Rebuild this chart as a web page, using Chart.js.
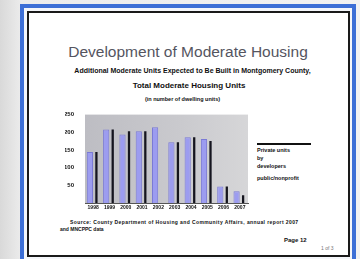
<!DOCTYPE html>
<html>
<head>
<meta charset="utf-8">
<script src="https://cdn.jsdelivr.net/npm/chart.js@4/dist/chart.umd.min.js"></script>
<style>
  html, body { margin: 0; padding: 0; }
  body {
    width: 360px; height: 259px; overflow: hidden; position: relative;
    background: linear-gradient(90deg, #d9d9d9 0%, #ececec 6%, #f2f2f2 100%);
    font-family: "Liberation Sans", Arial, sans-serif;
  }
  .slide {
    position: absolute; left: 20px; top: 4px; width: 328px; height: 251px;
    border: 4px solid #3d6fd6; background: #f4f6fa;
  }
  .inner {
    position: absolute; left: 3px; top: 3px; right: 2px; bottom: 2px;
    border: 2px solid #1a1a1a; background: #fff;
  }
  .t { position: absolute; white-space: nowrap; color: #111; }
  #chartBox { position: absolute; left: 65px; top: 108px; width: 186px; height: 106px; }
</style>
</head>
<body>
<div class="slide"><div class="inner"></div></div>

<div class="t" style="left:64px;top:43px;width:248px;text-align:center;font-size:15.5px;color:#55555f;">Development of Moderate Housing</div>
<div class="t" style="left:70px;top:67px;width:245px;text-align:center;font-size:7px;font-weight:bold;">Additional Moderate Units Expected to Be Built in Montgomery County,</div>
<div class="t" style="left:128px;top:81px;width:122px;text-align:center;font-size:8px;font-weight:bold;">Total Moderate Housing Units</div>
<div class="t" style="left:140px;top:96px;width:85px;text-align:center;font-size:5.5px;font-weight:bold;">(in number of dwelling units)</div>

<div id="chartBox"><canvas id="myBarChart"></canvas></div>

<div style="position:absolute;left:257px;top:143px;width:54px;height:2px;background:#111;"></div>
<div class="t" style="left:257px;top:147px;font-size:5.5px;font-weight:bold;">Private units</div>
<div class="t" style="left:257px;top:155px;font-size:5.5px;font-weight:bold;">by</div>
<div class="t" style="left:257px;top:163px;font-size:5.5px;font-weight:bold;">developers</div>
<div class="t" style="left:257px;top:175px;font-size:5.5px;font-weight:bold;">public/nonprofit</div>

<div class="t" style="left:70px;top:219px;font-size:5px;font-weight:bold;letter-spacing:0.4px;">Source: County Department of Housing and Community Affairs, annual report 2007</div>
<div class="t" style="left:60px;top:226px;font-size:5px;font-weight:bold;">and MNCPPC data</div>
<div class="t" style="left:284px;top:237px;font-size:6px;font-weight:bold;">Page 12</div>
<div class="t" style="left:321px;top:245px;font-size:5px;color:#777;">1 of 3</div>

<script>
const categories = ["1998", "1999", "2000", "2001", "2002", "2003", "2004", "2005", "2006", "2007"];
const privateUnits = [144, 208, 194, 203, 214, 172, 186, 181, 47, 33];
const publicUnits = [144, 208, 203, 203, 0, 172, 186, 175, 47, 22];
const yTicks = [50, 100, 150, 200, 250];

// gray plot background
const plotBg = {
  id: 'plotBg',
  beforeDraw(chart) {
    const { ctx, chartArea: a } = chart;
    const g = ctx.createLinearGradient(a.left, 0, a.right, 0);
    g.addColorStop(0, '#bdbdc3');
    g.addColorStop(0.6, '#cacace');
    g.addColorStop(1, '#d6d6d8');
    ctx.save();
    ctx.fillStyle = g;
    ctx.fillRect(a.left, a.top, a.right - a.left, a.bottom - a.top);
    ctx.restore();
  }
};

new Chart(document.getElementById('myBarChart'), {
  type: 'bar',
  data: {
    labels: categories,
    datasets: [{
      label: 'Private',
      data: privateUnits,
      backgroundColor: '#9c9cf0',
      borderColor: '#7a7ad6',
      borderWidth: 1,
      barPercentage: 0.95,
      categoryPercentage: 0.8
    }, {
      label: 'Public',
      data: publicUnits,
      backgroundColor: '#15151f',
      barPercentage: 0.35,
      categoryPercentage: 0.8
    }]
  },
  options: {
    responsive: true,
    maintainAspectRatio: false,
    animation: false,
    layout: { padding: { top: 5, right: 3, bottom: 0, left: 0 } },
    scales: {
      x: {
        grid: { display: false, drawTicks: false },
        border: { color: '#555' },
        ticks: { font: { size: 5, weight: 'bold' }, color: '#111', padding: 2, maxRotation: 0, autoSkip: false },
        afterFit: (s) => { s.height = 11; }
      },
      y: {
        min: 0,
        max: 250,
        afterBuildTicks: (s) => { s.ticks = yTicks.map(v => ({ value: v })); },
        grid: { display: false },
        border: { display: false },
        ticks: { font: { size: 6, weight: 'bold' }, color: '#111', padding: 3 },
        afterFit: (s) => { s.width = 20; }
      }
    },
    plugins: {
      legend: { display: false },
      tooltip: { enabled: false }
    }
  },
  plugins: [plotBg]
});
</script>
</body>
</html>
